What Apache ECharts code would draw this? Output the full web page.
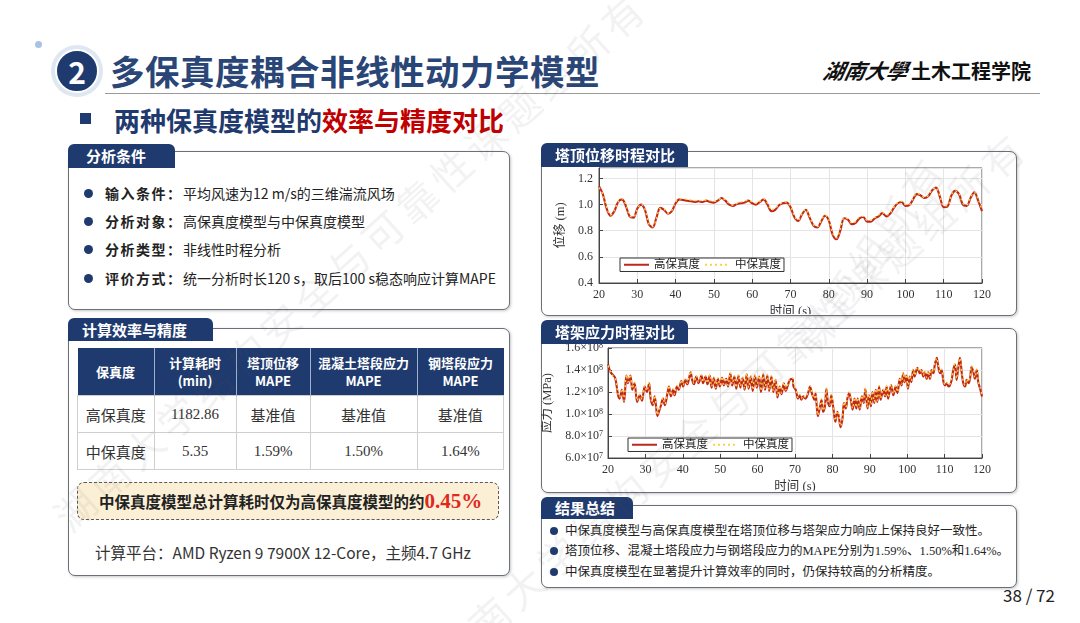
<!DOCTYPE html>
<html>
<head>
<meta charset="utf-8">
<script src="https://cdn.jsdelivr.net/npm/echarts@6/dist/echarts.min.js"></script>
<style>
  body { margin: 0; width: 1080px; height: 623px; background: #fff; position: relative; overflow: hidden;
         font-family: "Noto Sans CJK SC", "Noto Sans", sans-serif; color: #222; }
  .abs { position: absolute; white-space: nowrap; }
  .box { position: absolute; border: 1.3px solid #6b6f78; border-radius: 7px; background: #fff;
         box-shadow: 1px 1px 3px rgba(0,0,0,0.22); }
  .tab { position: absolute; background: #1f3a6e; color: #fff; font-weight: bold; font-size: 15px;
         padding-left: 14px; border-radius: 6px 6px 0 0; z-index: 5; box-sizing: border-box; }
  .bullet { position: absolute; left: 84px; width: 9px; height: 9px; border-radius: 50%; background: #1f3a6e; }
  .cond { position: absolute; left: 105px; font-size: 14px; line-height: 20px; white-space: nowrap; }
  .cond b { display: inline-block; width: 78px; letter-spacing: 1.5px; }
  table { position: absolute; left: 77px; top: 348px; border-collapse: collapse; z-index: 3; }
  th { background: #1f3a6e; color: #fff; font-size: 13px; font-weight: bold; line-height: 18px;
       height: 47px; padding: 0; border-right: 1px solid #9fb0cc; }
  td { height: 36px; padding: 0; text-align: center; font-size: 15px; color: #333;
       font-family: "Liberation Serif", "Noto Sans CJK SC", serif; border: 1px solid #cfcfcf; }
  .sum { position: absolute; left: 550px; font-size: 12.5px; line-height: 16px; color: #222; white-space: nowrap;
         font-family: "Liberation Serif", "Noto Sans CJK SC", serif; }
  .sum i { display: inline-block; width: 8px; height: 8px; border-radius: 50%; background: #1f3a6e; margin-right: 7px; }
  .wm { position: absolute; font-size: 40px; color: rgba(90,90,90,0.08); white-space: nowrap;
        transform-origin: 0 0; z-index: 20; pointer-events: none; letter-spacing: 6px; }
  .chart { position: absolute; z-index: 4; }
</style>
</head>
<body>
<script>
// 塔顶位移 (m), 1 s 间隔读取
const dispTime = [20,21,22,23,24,25,26,27,28,29,30,31,32,33,34,35,36,37,38,39,40,41,42,43,44,45,46,47,48,49,
  50,51,52,53,54,55,56,57,58,59,60,61,62,63,64,65,66,67,68,69,70,71,72,73,74,75,76,77,78,79,
  80,81,82,83,84,85,86,87,88,89,90,91,92,93,94,95,96,97,98,99,100,101,102,103,104,105,106,107,108,109,
  110,111,112,113,114,115,116,117,118,119,120];
const dispHigh = [1.14,1.08,0.97,0.915,0.95,1.02,1.04,0.99,0.91,0.90,0.97,1.00,0.96,0.85,0.825,0.90,0.975,0.96,0.93,0.95,
  1.01,1.04,1.035,1.03,1.025,1.02,1.025,1.02,1.03,1.02,1.015,1.03,1.05,1.03,1.00,0.99,1.005,1.01,1.015,1.03,
  1.01,1.00,1.02,1.04,1.00,0.95,0.96,0.995,1.01,1.015,0.98,0.905,0.875,0.925,0.96,0.90,0.84,0.825,0.87,0.915,
  0.88,0.77,0.735,0.80,0.895,0.885,0.85,0.86,0.895,0.905,0.87,0.87,0.895,0.91,0.935,0.91,0.93,0.975,1.01,1.02,
  0.99,0.995,1.04,1.08,1.07,1.05,1.065,1.11,1.13,1.06,0.98,0.985,1.07,1.105,1.08,1.00,0.99,1.05,1.095,1.03,0.95];
const dispMid = [1.13,1.08,0.98,0.92,0.955,1.02,1.045,1.00,0.915,0.905,0.965,1.005,0.965,0.855,0.83,0.895,0.97,0.965,0.935,0.955,
  1.02,1.045,1.045,1.04,1.035,1.03,1.03,1.03,1.035,1.03,1.025,1.035,1.05,1.035,1.01,0.995,1.01,1.02,1.025,1.035,
  1.02,1.01,1.025,1.045,1.01,0.96,0.97,1.00,1.015,1.02,0.985,0.915,0.88,0.93,0.965,0.905,0.845,0.83,0.875,0.92,
  0.885,0.78,0.745,0.81,0.90,0.89,0.86,0.87,0.905,0.91,0.88,0.88,0.90,0.92,0.94,0.92,0.935,0.98,1.015,1.025,
  1.00,1.00,1.045,1.085,1.075,1.055,1.07,1.115,1.13,1.065,0.99,0.99,1.075,1.105,1.085,1.01,0.995,1.055,1.095,1.04,0.96];

// 塔架应力 (×10^8 MPa), 峰谷处读取
const stressTime = [20,20.7,21.2,21.9,22.7,23.1,23.7,24.3,24.9,25.3,26,26.5,27.1,27.8,28.5,29.1,29.8,30.4,31,31.4,
  32,32.5,33.2,33.6,34.1,34.7,35.2,35.9,36.3,36.8,37.4,37.8,38.4,38.9,39.6,40.1,40.7,41.2,41.7,42.1,
  42.5,43,43.6,44.2,45,45.4,46.1,46.6,
  47.2,47.7,48.3,48.8,49.4,49.9,50.5,51,51.6,52.1,52.7,53.2,53.8,54.3,54.9,55.4,56,56.5,57.1,57.6,
  58.2,58.7,59.3,59.8,60.4,60.9,61.5,62,62.6,63.1,63.7,64.2,64.8,65.3,65.9,66.4,67,67.5,68,68.6,69.3,69.6,
  70.2,70.8,71.3,71.7,72.2,72.8,73.5,74,74.5,75.2,75.5,76.1,76.7,77.1,77.5,78,78.4,78.8,79.3,79.7,
  80.2,80.8,81.3,81.7,82.2,82.7,83.1,83.6,84,84.5,85,85.4,85.9,86.4,86.8,87.3,87.9,88.4,88.8,89.4,
  89.8,90.3,90.7,91.2,91.6,92,92.5,92.9,93.6,94.1,94.5,94.9,95.7,96.3,96.9,97.4,98,98.5,98.9,99.3,
  99.8,100.2,100.7,101.1,101.6,102,102.7,103.4,103.8,104.3,104.7,105.2,105.6,106.1,106.5,107,107.4,107.9,108.3,108.8,
  109.2,109.7,110.1,110.6,111,111.4,111.9,112.3,112.8,113.2,113.7,114.1,114.6,115,115.5,115.9,116.4,116.8,117.2,117.7,
  118.1,118.6,119,119.5,120];
const stressHigh = [1.45,1.38,1.36,1.33,1.17,1.14,1.22,1.11,1.35,1.28,1.35,1.22,1.28,1.11,1.17,1.12,1.25,1.20,1.28,1.14,
  1.08,1.16,0.98,1.02,1.07,1.14,1.08,1.19,1.25,1.16,1.22,1.17,1.25,1.22,1.30,1.25,1.31,1.27,1.33,1.38,
  1.31,1.27,1.34,1.28,1.35,1.28,1.34,1.27,
  1.35,1.24,1.33,1.23,1.32,1.25,1.33,1.26,1.32,1.25,1.37,1.26,1.34,1.23,1.35,1.24,1.33,1.22,1.36,1.23,
  1.34,1.21,1.35,1.24,1.34,1.20,1.36,1.22,1.35,1.21,1.34,1.20,1.31,1.15,1.25,1.18,1.28,1.21,1.25,1.31,1.32,1.25,
  1.22,1.14,1.17,1.13,1.16,1.14,1.19,1.25,1.19,1.13,1.19,0.98,1.07,1.13,1.02,1.07,1.23,1.11,1.07,1.17,
  1.07,0.93,1.02,0.98,0.88,0.96,1.10,1.05,1.14,1.19,1.11,1.04,1.14,1.05,1.14,1.04,1.16,1.10,1.23,1.05,
  1.17,1.07,1.20,1.10,1.22,1.11,1.25,1.13,1.22,1.16,1.25,1.14,1.26,1.17,1.25,1.19,1.32,1.26,1.37,1.29,
  1.35,1.23,1.34,1.29,1.40,1.34,1.42,1.37,1.40,1.34,1.38,1.32,1.38,1.32,1.40,1.37,1.45,1.51,1.43,1.37,
  1.40,1.29,1.26,1.28,1.25,1.26,1.31,1.40,1.45,1.31,1.43,1.51,1.37,1.28,1.25,1.31,1.28,1.32,1.43,1.38,
  1.32,1.40,1.29,1.23,1.16];
const stressMid = [1.44,1.38,1.35,1.33,1.18,1.15,1.23,1.12,1.36,1.29,1.36,1.23,1.29,1.12,1.18,1.13,1.26,1.21,1.29,1.15,
  1.09,1.17,0.99,1.03,1.08,1.15,1.09,1.20,1.26,1.17,1.23,1.18,1.26,1.23,1.31,1.26,1.32,1.28,1.34,1.39,
  1.32,1.28,1.35,1.29,1.36,1.29,1.35,1.28,
  1.36,1.25,1.34,1.24,1.33,1.26,1.34,1.27,1.33,1.26,1.38,1.27,1.35,1.24,1.36,1.25,1.34,1.23,1.37,1.24,
  1.35,1.22,1.36,1.25,1.35,1.21,1.37,1.23,1.36,1.22,1.35,1.21,1.32,1.16,1.26,1.19,1.29,1.22,1.26,1.32,1.33,1.26,
  1.23,1.15,1.18,1.14,1.17,1.15,1.20,1.26,1.20,1.14,1.20,0.99,1.08,1.14,1.03,1.08,1.24,1.12,1.08,1.18,
  1.08,0.94,1.03,0.99,0.89,0.97,1.11,1.06,1.15,1.20,1.12,1.05,1.15,1.06,1.15,1.05,1.17,1.11,1.24,1.06,
  1.18,1.08,1.21,1.11,1.23,1.12,1.26,1.14,1.23,1.17,1.26,1.15,1.27,1.18,1.26,1.20,1.33,1.27,1.38,1.30,
  1.36,1.24,1.35,1.30,1.41,1.35,1.43,1.38,1.41,1.35,1.39,1.33,1.39,1.33,1.41,1.38,1.46,1.51,1.44,1.38,
  1.41,1.30,1.27,1.29,1.26,1.27,1.32,1.41,1.46,1.32,1.44,1.51,1.38,1.29,1.26,1.32,1.29,1.33,1.44,1.39,
  1.33,1.41,1.30,1.24,1.17];

const seriesNames = ['高保真度', '中保真度'];
const timeTicks = [20, 30, 40, 50, 60, 70, 80, 90, 100, 110, 120];
const dispTicks = [0.4, 0.6, 0.8, 1.0, 1.2];
const stressTicks = [0.6, 0.8, 1.0, 1.2, 1.4, 1.6];
</script>

<!-- header -->
<div class="abs" style="left:35px;top:41px;width:7px;height:7px;border-radius:50%;background:#a9c3e3;"></div>
<div class="abs" style="left:51px;top:45px;width:52px;height:52px;border-radius:50%;background:#dfe7f3;"></div>
<div class="abs" style="left:55px;top:49px;width:44px;height:44px;border-radius:50%;background:#1f3a6e;border:2px solid #fff;box-sizing:border-box;color:#fff;font-weight:bold;font-size:30px;line-height:40px;text-align:center;">2</div>
<div class="abs" style="left:110px;top:47px;font-size:34.5px;font-weight:bold;color:#2a4677;line-height:46px;letter-spacing:0.5px;">多保真度耦合非线性动力学模型</div>
<div class="abs" style="left:824px;top:56px;font-size:21px;font-style:italic;font-weight:bold;color:#111;line-height:28px;font-family:'Noto Sans CJK TC',serif;transform:skewX(-12deg);">湖南大學</div>
<div class="abs" style="left:911px;top:57px;font-size:20px;font-weight:bold;color:#111;line-height:28px;">土木工程学院</div>
<div class="abs" style="left:105px;top:93px;width:935px;height:1px;background:#9a9a9a;"></div>
<div class="abs" style="left:80px;top:113px;width:11px;height:11px;background:#1f3a6e;"></div>
<div class="abs" style="left:114px;top:103px;font-size:26px;font-weight:bold;color:#1f3a6e;line-height:34px;">两种保真度模型的<span style="color:#c00000;">效率与精度对比</span></div>

<!-- left top panel -->
<div class="box" style="left:68px;top:151px;width:440px;height:157px;"></div>
<div class="tab" style="left:68px;top:144px;width:107px;height:24px;line-height:24px;padding-left:18px;">分析条件</div>
<div class="bullet" style="top:189px;"></div>
<div class="cond" style="top:183px;"><b>输入条件：</b>平均风速为12 m/s的三维湍流风场</div>
<div class="bullet" style="top:217px;"></div>
<div class="cond" style="top:211px;"><b>分析对象：</b>高保真度模型与中保真度模型</div>
<div class="bullet" style="top:245px;"></div>
<div class="cond" style="top:239px;"><b>分析类型：</b>非线性时程分析</div>
<div class="bullet" style="top:274px;"></div>
<div class="cond" style="top:268px;"><b>评价方式：</b>统一分析时长120 s，取后100 s稳态响应计算MAPE</div>

<!-- left bottom panel -->
<div class="box" style="left:68px;top:328px;width:440px;height:246px;"></div>
<div class="tab" style="left:68px;top:318px;width:145px;height:23px;line-height:23px;">计算效率与精度</div>
<table>
  <tr>
    <th style="width:76px;">保真度</th>
    <th style="width:81px;">计算耗时<br>(min)</th>
    <th style="width:73px;">塔顶位移<br>MAPE</th>
    <th style="width:106px;">混凝土塔段应力<br>MAPE</th>
    <th style="width:86px;border-right:none;">钢塔段应力<br>MAPE</th>
  </tr>
  <tr><td>高保真度</td><td>1182.86</td><td>基准值</td><td>基准值</td><td>基准值</td></tr>
  <tr><td>中保真度</td><td>5.35</td><td>1.59%</td><td>1.50%</td><td>1.64%</td></tr>
</table>
<div class="abs" style="left:77px;top:482px;width:422px;height:38px;border:1.5px dashed #5a5a5a;border-radius:7px;background:#fbf0d6;box-sizing:border-box;z-index:3;"></div>
<div class="abs" style="left:99px;top:487px;font-size:15.5px;font-weight:bold;color:#222;line-height:28px;z-index:4;">中保真度模型总计算耗时仅为高保真度模型的约<span style="color:#e0281e;font-family:'Liberation Serif',serif;font-size:21px;">0.45%</span></div>
<div class="abs" style="left:95px;top:541px;font-size:15.5px;color:#333;line-height:22px;">计算平台：AMD Ryzen 9 7900X 12-Core，主频4.7 GHz</div>

<!-- right panels -->
<div class="box" style="left:541px;top:151px;width:474px;height:163px;"></div>
<div class="tab" style="left:541px;top:143px;width:147px;height:24px;line-height:24px;">塔顶位移时程对比</div>
<div class="box" style="left:541px;top:328px;width:474px;height:163px;"></div>
<div class="tab" style="left:541px;top:320px;width:147px;height:24px;line-height:24px;">塔架应力时程对比</div>
<div class="box" style="left:541px;top:505px;width:474px;height:81px;"></div>
<div class="tab" style="left:541px;top:497px;width:92px;height:22px;line-height:22px;">结果总结</div>
<div class="sum" style="top:523px;"><i></i>中保真度模型与高保真度模型在塔顶位移与塔架应力响应上保持良好一致性。</div>
<div class="sum" style="top:543px;"><i></i>塔顶位移、混凝土塔段应力与钢塔段应力的MAPE分别为1.59%、1.50%和1.64%。</div>
<div class="sum" style="top:564px;"><i></i>中保真度模型在显著提升计算效率的同时，仍保持较高的分析精度。</div>
<div class="abs" style="left:990px;top:584px;width:65px;text-align:right;font-size:17px;color:#222;line-height:22px;">38 / 72</div>

<div id="dispChart" class="chart" style="left:541px;top:152px;width:474px;height:162px;"></div>
<div id="stressChart" class="chart" style="left:541px;top:328px;width:474px;height:163px;"></div>

<!-- watermark -->
<div class="wm" style="left:40px;top:500px;transform:rotate(-42deg);">湖南大学结构安全与可靠性课题组所有</div>
<div class="wm" style="left:420px;top:640px;transform:rotate(-42deg);">湖南大学结构安全与可靠性课题组所有</div>
<div class="wm" style="left:780px;top:330px;transform:rotate(-55deg);">课题组所有</div>

<script>
const serif = "'Liberation Serif', 'Noto Sans CJK SC', serif";
const highColor = '#bf261c';
const midColor = '#ffcf45';

function baseAxis(extra) {
  return Object.assign({
    axisLine: { show: true, lineStyle: { color: '#444', width: 1 } },
    axisTick: { show: true, inside: true, length: 4, lineStyle: { color: '#444' } },
    splitLine: { show: true, lineStyle: { color: '#e4e4e4', width: 1 } },
    axisLabel: { fontFamily: serif, fontSize: 12, color: '#333', margin: 6 },
    nameTextStyle: { fontFamily: serif, fontSize: 12.5, color: '#333' }
  }, extra);
}

function makeSeries(time, high, mid) {
  return [
    {
      name: seriesNames[0], type: 'line', symbol: 'none', smooth: 0.35,
      data: time.map((t, i) => [t, high[i]]),
      lineStyle: { color: highColor, width: 2.1 }, itemStyle: { color: highColor }, z: 2
    },
    {
      name: seriesNames[1], type: 'line', symbol: 'none', smooth: 0.35,
      data: time.map((t, i) => [t, mid[i]]),
      lineStyle: { color: midColor, width: 1.4, type: [2, 3] }, itemStyle: { color: midColor }, z: 3
    }
  ];
}

function legendAt(left, top) {
  return {
    data: seriesNames, left: left, top: top, orient: 'horizontal',
    itemWidth: 25, itemHeight: 10, itemGap: 4,
    itemStyle: { opacity: 0 },
    backgroundColor: '#fff', borderColor: '#333', borderWidth: 1, borderRadius: 0, padding: [1, 3],
    textStyle: { fontFamily: serif, fontSize: 11.5, color: '#222' }
  };
}

const dispChart = echarts.init(document.getElementById('dispChart'));
dispChart.setOption({
  animation: false,
  grid: { left: 58, right: 33, top: 16, bottom: 31, show: true, borderColor: '#555', borderWidth: 1,
          containLabel: false, outerBoundsMode: 'none' },
  xAxis: baseAxis({
    type: 'value', min: timeTicks[0], max: timeTicks[timeTicks.length - 1], interval: 10,
    name: '时间 (s)', nameLocation: 'middle', nameGap: 20
  }),
  yAxis: baseAxis({
    type: 'value', min: dispTicks[0], max: 1.28, interval: 0.2,
    name: '位移 (m)', nameLocation: 'middle', nameGap: 31,
    axisLabel: { fontFamily: serif, fontSize: 12, color: '#333', margin: 6, showMaxLabel: false,
      formatter: v => dispTicks.some(t => Math.abs(t - v) < 1e-6) ? v.toFixed(1) : '' }
  }),
  legend: legendAt(79, 106),
  series: makeSeries(dispTime, dispHigh, dispMid)
});

const stressChart = echarts.init(document.getElementById('stressChart'));
stressChart.setOption({
  animation: false,
  grid: { left: 67, right: 33, top: 20, bottom: 33, show: true, borderColor: '#555', borderWidth: 1,
          containLabel: false, outerBoundsMode: 'none' },
  xAxis: baseAxis({
    type: 'value', min: timeTicks[0], max: timeTicks[timeTicks.length - 1], interval: 10,
    name: '时间 (s)', nameLocation: 'middle', nameGap: 21
  }),
  yAxis: baseAxis({
    type: 'value', min: stressTicks[0], max: stressTicks[stressTicks.length - 1], interval: 0.2,
    name: '应力 (MPa)', nameLocation: 'middle', nameGap: 51,
    axisLabel: {
      fontFamily: serif, fontSize: 12, color: '#333', margin: 5,
      formatter: v => v >= 0.999 ? v.toFixed(1) + '×10{sup|8}' : (v * 10).toFixed(1) + '×10{sup|7}',
      rich: { sup: { fontSize: 8, fontFamily: serif, color: '#333', verticalAlign: 'top', lineHeight: 8 } }
    }
  }),
  legend: legendAt(87, 110),
  series: makeSeries(stressTime, stressHigh, stressMid)
});
</script>
</body>
</html>
